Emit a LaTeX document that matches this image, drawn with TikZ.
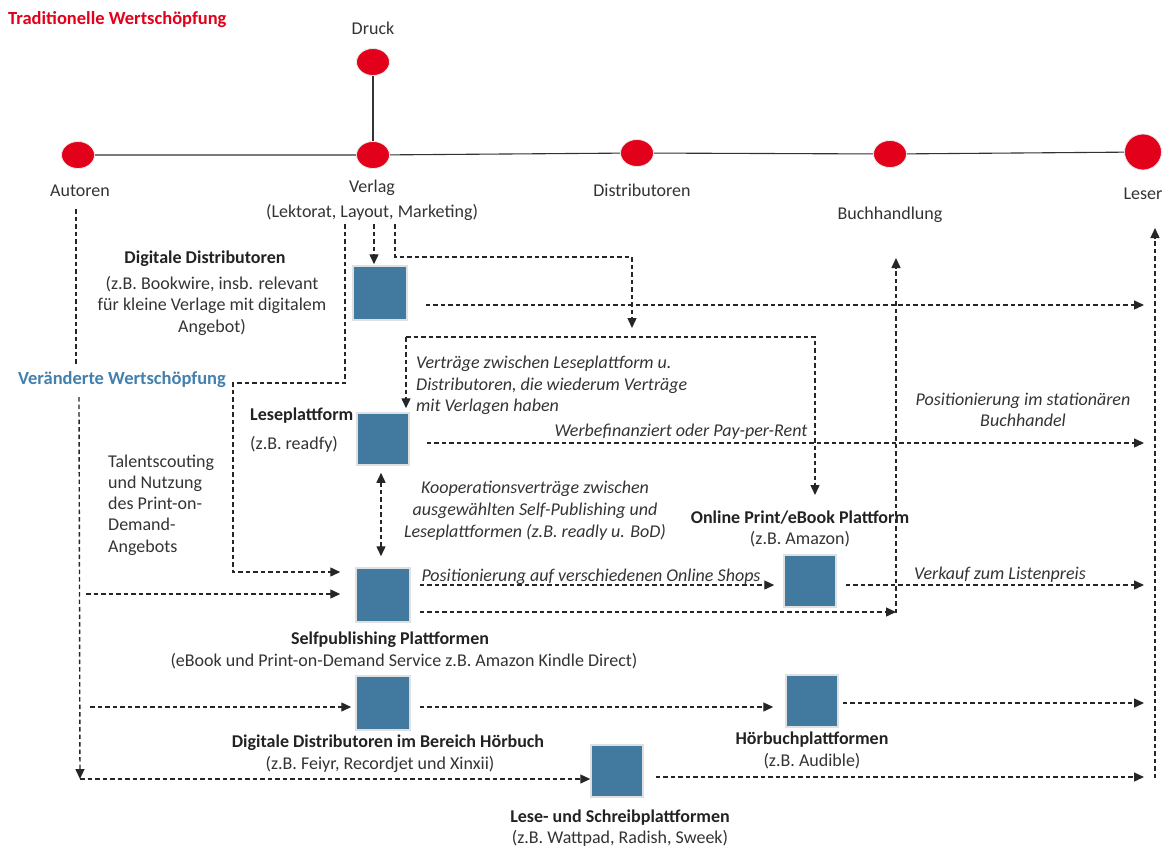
\documentclass[tikz,border=0pt]{standalone}
\usepackage{fontspec}
\setmainfont{Carlito}
\usetikzlibrary{arrows.meta,shapes.geometric}
\definecolor{dotred}{HTML}{E2001A}
\definecolor{boxblue}{HTML}{41799F}
\definecolor{changeblue}{HTML}{4380AE}
\definecolor{ink}{HTML}{333333}
\definecolor{inkdark}{HTML}{222222}

\begin{document}
\begin{tikzpicture}[x=1pt,y=-1pt,
  reddot/.style={ellipse, fill=dotred, draw=black!8, line width=0.8pt,
    minimum width=33pt, minimum height=27pt, inner sep=0pt},
  bluebox/.style={rectangle, fill=boxblue, draw=black!12, line width=1.5pt,
    minimum size=54pt, inner sep=0pt},
  plainlbl/.style={font=\fontsize{18}{21}\selectfont, text=ink, inner sep=0pt, anchor=base},
  boldlbl/.style={plainlbl, font=\fontsize{18}{21}\selectfont\bfseries, text=inkdark},
  italiclbl/.style={plainlbl, font=\fontsize{18}{21}\selectfont\itshape},
  solidline/.style={draw=ink, line width=1.1pt},
  flowline/.style={draw=black!85, line width=1.4pt, dash pattern=on 4.5pt off 3pt},
  arrowend/.style={-{Triangle[length=10pt,width=9pt]}},
  botharrows/.style={{Triangle[length=10pt,width=9pt]}-{Triangle[length=10pt,width=9pt]}},
]
\useasboundingbox (0,0) rectangle (1171,847);

% ---------- traditional value chain ----------
\node[plainlbl, anchor=base west, font=\fontsize{18.5}{21}\selectfont\bfseries, text=dotred]
  (titletrad) at (8,24) {Traditionelle Wertschöpfung};

\node[reddot] (cD)  at (373,62)  {};
\node[reddot] (cA)  at (78,155)  {};
\node[reddot] (cV)  at (373,155) {};
\node[reddot] (cDi) at (637,153) {};
\node[reddot] (cB)  at (890,154) {};
\node[reddot, minimum width=37pt, minimum height=36pt] (cL) at (1143,152) {};

\draw[solidline] (cA) -- (cV) -- (cDi) -- (cB) -- (cL);
\draw[solidline] (cD) -- (cV);

\node[plainlbl] (tDruck) at (373,34)  {Druck};
\node[plainlbl] (tAut)   at (80,196)  {Autoren};
\node[plainlbl] (tVerl)  at (372,192) {Verlag};
\node[plainlbl] (tVerl2) at (372,217) {(Lektorat, Layout, Marketing)};
\node[plainlbl] (tDist)  at (642,196) {Distributoren};
\node[plainlbl] (tBuch)  at (890,219) {Buchhandlung};
\node[plainlbl] (tLes)   at (1143,199) {Leser};

% ---------- changed value chain ----------
\node[plainlbl, anchor=base west, font=\fontsize{18.5}{21}\selectfont\bfseries, text=changeblue]
  (titlenew) at (18,384) {Veränderte Wertschöpfung};

\node[bluebox] (sDD) at (380,293) {};
\node[bluebox, minimum size=52pt] (sLP) at (383,439) {};
\node[bluebox] (sSP) at (383,595) {};
\node[bluebox, minimum size=52pt] (sOP) at (810,581) {};
\node[bluebox] (sHD) at (383,703) {};
\node[bluebox, minimum size=52pt] (sHP) at (812,701) {};
\node[bluebox, minimum size=52pt] (sLS) at (617,771) {};

% labels of the platforms
\node[boldlbl]  (tDD1) at (205,263) {Digitale Distributoren};
\node[plainlbl] (tDD2) at (212,289) {(z.B. Bookwire, insb. relevant};
\node[plainlbl] (tDD3) at (212,310) {für kleine Verlage mit digitalem};
\node[plainlbl] (tDD4) at (212,332) {Angebot)};

\node[boldlbl, anchor=base west]  (tLP1) at (250,420) {Leseplattform};
\node[plainlbl, anchor=base west] (tLP2) at (250,449) {(z.B. readfy)};

\node[plainlbl, anchor=base west] (tTal1) at (108,467) {Talentscouting};
\node[plainlbl, anchor=base west] (tTal2) at (108,488) {und Nutzung};
\node[plainlbl, anchor=base west] (tTal3) at (108,509) {des Print-on-};
\node[plainlbl, anchor=base west] (tTal4) at (108,530) {Demand-};
\node[plainlbl, anchor=base west] (tTal5) at (108,552) {Angebots};

\node[italiclbl, anchor=base west] (tVt1) at (416,368) {Verträge zwischen Leseplattform u.};
\node[italiclbl, anchor=base west] (tVt2) at (416,390) {Distributoren, die wiederum Verträge};
\node[italiclbl, anchor=base west] (tVt3) at (416,411) {mit Verlagen haben};

\node[italiclbl] (tPs1) at (1023,405) {Positionierung im stationären};
\node[italiclbl] (tPs2) at (1023,426) {Buchhandel};

\node[italiclbl] (tWerb) at (681,436) {Werbefinanziert oder Pay-per-Rent};

\node[italiclbl] (tKo1) at (535,493) {Kooperationsverträge zwischen};
\node[italiclbl] (tKo2) at (535,515) {ausgewählten Self-Publishing und};
\node[italiclbl] (tKo3) at (535,537) {Leseplattformen (z.B. readly u. BoD)};

\node[boldlbl]  (tOP1) at (800,523) {Online Print/eBook Plattform};
\node[plainlbl] (tOP2) at (800,544) {(z.B. Amazon)};

\node[italiclbl] (tPos) at (591,581) {Positionierung auf verschiedenen Online Shops};
\node[italiclbl] (tVk)  at (1000,579) {Verkauf zum Listenpreis};

\node[boldlbl]  (tSP1) at (390,644) {Selfpublishing Plattformen};
\node[plainlbl] (tSP2) at (404,666) {(eBook und Print-on-Demand Service z.B. Amazon Kindle Direct)};

\node[boldlbl]  (tHD1) at (388,747) {Digitale Distributoren im Bereich Hörbuch};
\node[plainlbl] (tHD2) at (380,769) {(z.B. Feiyr, Recordjet und Xinxii)};

\node[boldlbl]  (tHP1) at (812,744) {Hörbuchplattformen};
\node[plainlbl] (tHP2) at (812,766) {(z.B. Audible)};

\node[boldlbl]  (tLS1) at (620,822) {Lese- und Schreibplattformen};
\node[plainlbl] (tLS2) at (620,843) {(z.B. Wattpad, Radish, Sweek)};

% ---------- guide points of the dashed connectors ----------
\coordinate (a1) at (76,209);
\coordinate (a2) at (76,366);
\coordinate (a3) at (79,397);
\coordinate (a4) at (80,779);
\coordinate (s1) at (86,594);
\coordinate (h1) at (90,707);
\coordinate (v1) at (345,224);
\coordinate (v1b) at (233,383);
\coordinate (v1c) at (233,572);
\coordinate (v2) at (374,224);
\coordinate (v3) at (395,224);
\coordinate (v3a) at (395,257);
\coordinate (v3b) at (632,328);
\coordinate (c1) at (406,337);
\coordinate (c2) at (815,495);
\coordinate (l1) at (1155,778);
\coordinate (l2) at (1155,228);
\coordinate (b1) at (896,613);
\coordinate (b2) at (896,258);

% authors
\draw[flowline] (a1) -- (a2);
\draw[flowline, arrowend] (a3) -- (a4);
\draw[flowline, arrowend] (a4) -- (a4 -| sLS.west);
\draw[flowline, arrowend, shorten >=15pt] (s1) -- (s1 -| sSP.west);
\draw[flowline, arrowend, shorten >=4pt] (h1) -- (h1 -| sHD.west);

% publisher
\draw[flowline, arrowend, shorten >=15pt] (v1) |- (v1b) -- (v1c) -- (v1c -| sSP.west);
\draw[flowline, arrowend, shorten >=1pt] (v2) -- (v2 |- sDD.north);
\draw[flowline, arrowend] (v3) -- (v3a) -| (v3b);
\draw[flowline, arrowend] (c1) -| (c2);
\draw[flowline, arrowend, shorten >=4pt] (c1) -- (c1 |- sLP.north);

% reader and bookstore
\draw[flowline, arrowend] (l1) -- (l2);
\draw[flowline, arrowend] (b1) -- (b2);

% platform outputs
\draw[flowline, arrowend, shorten <=18pt, shorten >=11pt]
  ([yshift=-12pt]sDD.east) -- ([yshift=-12pt]sDD.east -| l1);
\draw[flowline, arrowend, shorten <=17pt, shorten >=11pt]
  ([yshift=-4pt]sLP.east) -- ([yshift=-4pt]sLP.east -| l1);
\draw[flowline, botharrows, shorten <=7pt, shorten >=11pt]
  ([xshift=-2pt]sLP.south) -- ([xshift=-2pt]sSP.north);
\draw[flowline, arrowend, shorten <=9pt, shorten >=9pt]
  ([yshift=10pt]sSP.east) -- ([yshift=10pt]sSP.east -| sOP.west);
\draw[flowline, arrowend, shorten <=9pt]
  ([yshift=-17pt]sSP.east) -- ([yshift=-17pt]sSP.east -| b1);
\draw[flowline, arrowend, shorten <=9pt, shorten >=11pt]
  ([yshift=-4pt]sOP.east) -- ([yshift=-4pt]sOP.east -| l1);
\draw[flowline, arrowend, shorten <=9pt, shorten >=12pt]
  ([yshift=-4pt]sHD.east) -- ([yshift=-4pt]sHD.east -| sHP.west);
\draw[flowline, arrowend, shorten <=4pt, shorten >=11pt]
  ([yshift=-2pt]sHP.east) -- ([yshift=-2pt]sHP.east -| l1);
\draw[flowline, arrowend, shorten <=12pt, shorten >=11pt]
  ([yshift=-6pt]sLS.east) -- ([yshift=-6pt]sLS.east -| l1);
\end{tikzpicture}
\end{document}
